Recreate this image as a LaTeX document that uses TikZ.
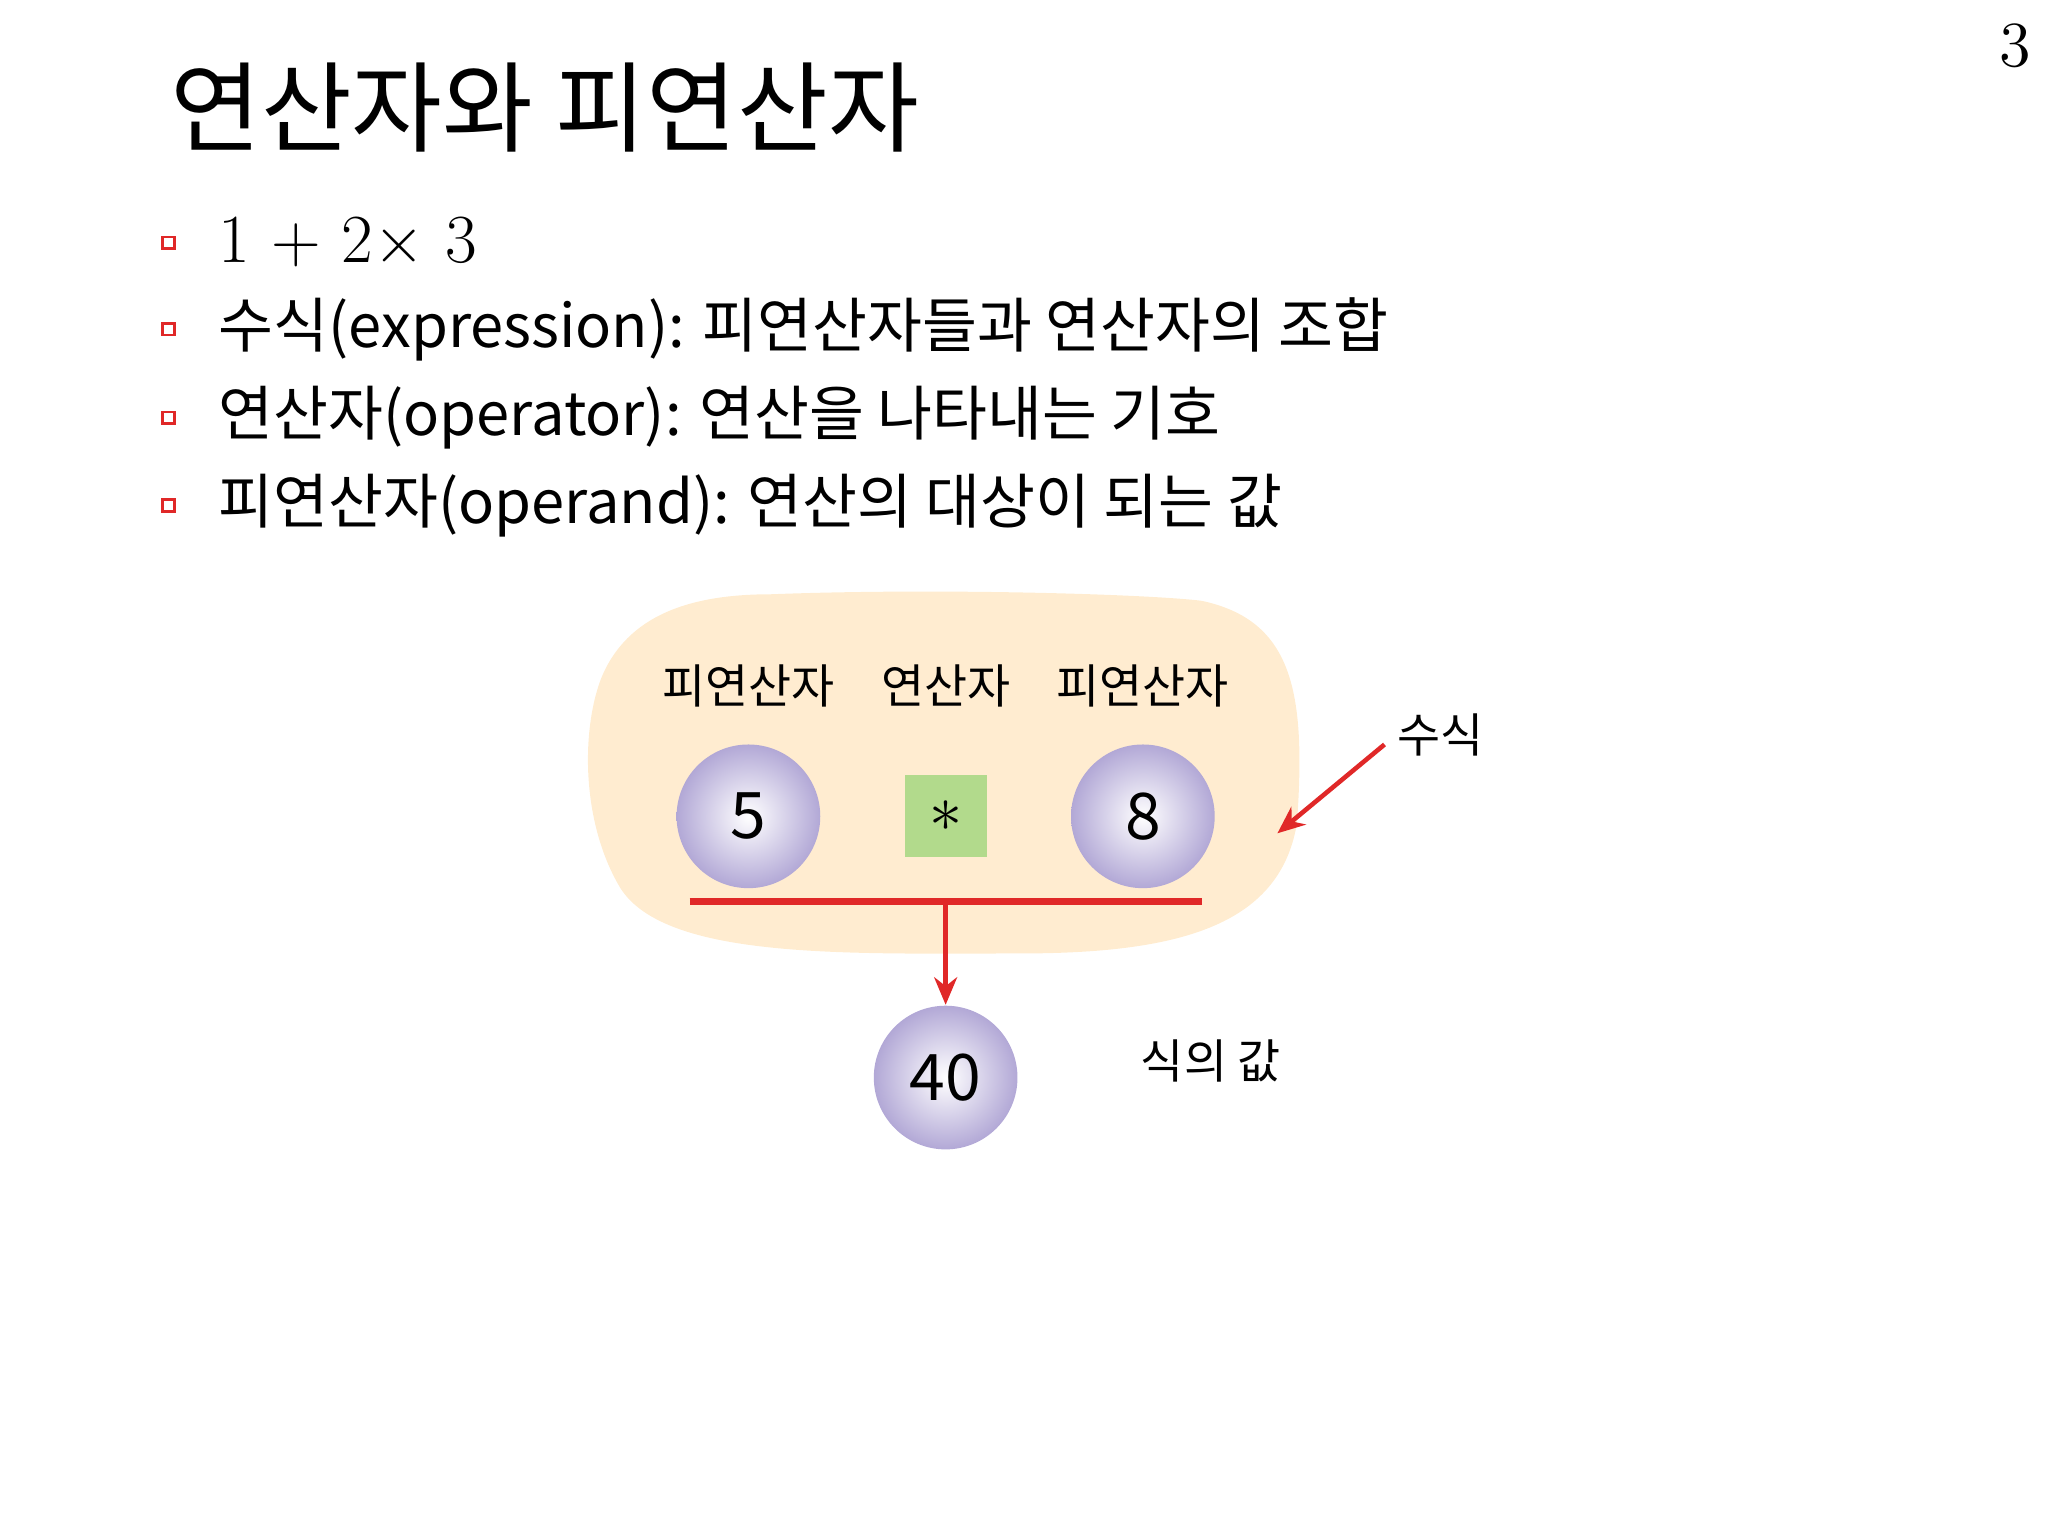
\documentclass[tikz,border=0pt]{standalone}
\usepackage{fontspec}
\setmainfont{Noto Sans CJK KR}
\newfontfamily\lmfont{Latin Modern Roman}
\usetikzlibrary{arrows.meta}
\definecolor{peach}{RGB}{255,236,208}
\definecolor{lav}{RGB}{178,168,214}
\definecolor{grn}{RGB}{178,218,140}
\definecolor{redl}{RGB}{224,40,40}
\tikzset{
  ball/.style={circle,minimum size=1.1cm,inner sep=0pt,inner color=white,outer color=lav,font=\fontsize{14}{14}\selectfont},
  lbl/.style={font=\fontsize{10.2}{10}\selectfont},
  bul/.style={draw=redl,line width=0.6pt,minimum size=0.09cm,inner sep=0pt},
  btxt/.style={anchor=west,font=\fontsize{13}{13}\selectfont},
  rarrow/.style={draw=redl,line width=1pt,-{Stealth[length=6pt,width=5pt]}}
}
\begin{document}
\begin{tikzpicture}[y=-1cm]
\useasboundingbox (0,0) rectangle (15.68,11.76);
\node[font=\lmfont\fontsize{14}{14}\selectfont] (pg) at (15.43,0.35) {3};
\node[anchor=west,font=\fontsize{21.5}{22}\selectfont] (title) at (1.18,0.82) {연산자와 피연산자};
\foreach \y/\n in {1.86/a,2.52/b,3.20/c,3.87/d}{ \node[bul] (b\n) at (1.29,\y) {}; }
\node[btxt,font=\lmfont\fontsize{15}{15}\selectfont] (t1) at (1.55,1.86) {1 + 2$\times$ 3};
\node[btxt] (t2) at (1.55,2.52) {수식(expression): 피연산자들과 연산자의 조합};
\node[btxt] (t3) at (1.55,3.20) {연산자(operator): 연산을 나타내는 기호};
\node[btxt] (t4) at (1.55,3.87) {피연산자(operand): 연산의 대상이 되는 값};
% blob
\fill[peach] (5.9,4.55) .. controls (7.2,4.5) and (8.8,4.55) .. (9.2,4.6)
  .. controls (9.9,4.75) and (10.0,5.3) .. (9.93,6.3)
  .. controls (9.8,7.1) and (9.0,7.3) .. (7.8,7.3)
  .. controls (6.5,7.3) and (5.1,7.35) .. (4.75,6.8)
  .. controls (4.45,6.3) and (4.45,5.6) .. (4.6,5.2)
  .. controls (4.8,4.7) and (5.3,4.55) .. (5.9,4.55) -- cycle;
\node[lbl] (l1) at (5.73,5.25) {피연산자};
\node[lbl] (l2) at (7.24,5.25) {연산자};
\node[lbl] (l3) at (8.75,5.25) {피연산자};
\node[ball] (n5) at (5.73,6.25) {5};
\node[ball] (n8) at (8.75,6.25) {8};
\node[fill=grn,minimum size=0.63cm,inner sep=0pt,font=\fontsize{14}{14}\selectfont] (op) at (7.24,6.25) {$\ast$};
\coordinate (ll) at (5.28,6.9);
\coordinate (lr) at (9.2,6.9);
\coordinate (lm) at (7.24,6.9);
\draw[redl,line width=1.5pt] (ll) -- (lr);
\node[ball] (n40) at (7.24,8.25) {40};
\draw[rarrow] (lm) -- (n40.north);
\node[lbl] (val) at (9.27,8.12) {식의 값};
\node[lbl] (expr) at (11.03,5.63) {수식};
\coordinate (es) at (10.6,5.7);
\coordinate (ee) at (9.78,6.38);
\draw[rarrow] (es) -- (ee);
\end{tikzpicture}
\end{document}
